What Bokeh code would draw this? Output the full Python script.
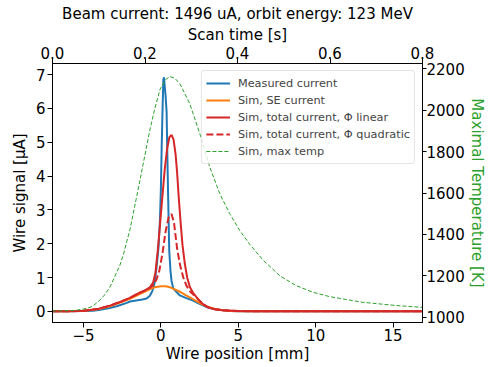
from bokeh.plotting import figure
from bokeh.models import Range1d, LinearAxis, FixedTicker, PrintfTickFormatter, Legend, LegendItem
from bokeh.embed import file_html
from bokeh.resources import INLINE

# ---- data ----
pos_meas = [-7.0, -6.0, -5.0, -4.4, -4.0, -3.3, -2.8, -2.2, -2.0, -1.6, -1.2, -0.92, -0.71, -0.55,
            -0.4, -0.28, -0.15, -0.06, 0.0, 0.05, 0.11, 0.16, 0.2, 0.24, 0.3, 0.37, 0.42, 0.47,
            0.54, 0.62, 0.69, 0.8, 1.0, 1.23, 1.6, 2.08, 2.5, 3.0, 3.5, 4.0, 4.5, 5.0, 6.0, 8.0,
            12.0, 16.9]
cur_meas = [0.0, 0.0, 0.01, 0.02, 0.04, 0.10, 0.16, 0.25, 0.29, 0.32, 0.35, 0.38, 0.46, 0.6,
            0.85, 1.3, 1.9, 2.7, 3.6, 4.8, 6.0, 6.85, 6.92, 6.7, 6.4, 5.9, 4.6, 3.4,
            1.8, 1.2, 0.9, 0.68, 0.58, 0.47, 0.40, 0.32, 0.22, 0.12, 0.06, 0.03, 0.01, 0.005, 0.0, 0.0,
            0.0, 0.0]

pos_se = [-7.0, -6.0, -5.0, -4.5, -4.0, -3.3, -2.5, -2.0, -1.5, -1.0, -0.7, -0.4, 0.0, 0.3, 0.6,
          0.9, 1.23, 1.6, 2.0, 2.3, 2.7, 3.0, 3.5, 4.0, 4.5, 5.0, 6.0, 16.9]
cur_se = [0.0, 0.003, 0.02, 0.04, 0.07, 0.15, 0.28, 0.37, 0.48, 0.59, 0.66, 0.71, 0.74, 0.74, 0.71,
          0.65, 0.58, 0.48, 0.38, 0.30, 0.20, 0.14, 0.07, 0.03, 0.012, 0.005, 0.0, 0.0]

pos_lin = [-7.0, -6.0, -5.0, -4.58, -4.0, -3.29, -2.5, -2.0, -1.5, -1.0, -0.71, -0.5, -0.35, -0.2,
           -0.05, 0.1, 0.25, 0.4, 0.55, 0.69, 0.82, 0.95, 1.05, 1.15, 1.28, 1.4, 1.55, 1.7, 1.87,
           2.08, 2.4, 2.7, 3.0, 3.4, 4.0, 5.0, 6.0, 8.0, 16.9]
cur_lin = [0.0, 0.002, 0.015, 0.04, 0.08, 0.17, 0.3, 0.40, 0.52, 0.63, 0.71, 0.85, 1.15, 1.8,
           2.6, 3.4, 4.2, 4.8, 5.15, 5.22, 5.08, 4.65, 4.1, 3.4, 2.6, 1.95, 1.4, 1.0, 0.72,
           0.55, 0.36, 0.22, 0.13, 0.07, 0.03, 0.01, 0.003, 0.0, 0.0]

pos_quad = [-7.0, -6.0, -5.0, -4.58, -4.0, -3.29, -2.5, -2.0, -1.5, -1.0, -0.71, -0.5, -0.3, -0.1,
            0.1, 0.3, 0.5, 0.69, 0.85, 1.05, 1.25, 1.45, 1.65, 1.9, 2.1, 2.4, 2.7, 3.0, 3.4, 4.0,
            5.0, 6.0, 8.0, 16.9]
cur_quad = [0.0, 0.002, 0.015, 0.04, 0.08, 0.17, 0.3, 0.40, 0.52, 0.62, 0.69, 0.78, 0.92, 1.2,
            1.7, 2.35, 2.78, 2.88, 2.62, 1.85, 1.35, 1.0, 0.76, 0.58, 0.5, 0.36, 0.22, 0.13, 0.07, 0.03,
            0.01, 0.003, 0.0, 0.0]

pos_temp = [-7.0, -6.0, -5.5, -5.0, -4.58, -4.37, -4.0, -3.65, -3.29, -2.65, -2.43, -2.0, -1.7,
            -1.35, -0.71, -0.4, -0.06, 0.3, 0.58, 0.9, 1.23, 1.87, 2.52, 3.16, 3.81, 4.45, 5.1,
            5.74, 6.6, 7.68, 8.75, 9.83, 10.9, 13.0, 15.2, 16.9]
temp_max = [1030, 1031, 1033, 1039, 1047, 1055, 1078, 1106, 1145, 1250, 1300, 1422, 1532,
            1662, 1905, 2005, 2100, 2148, 2163, 2155, 2128, 2031, 1886, 1725, 1596, 1500, 1418,
            1352, 1276, 1200, 1152, 1120, 1099, 1072, 1056, 1047]

title_text = "Beam current: 1496 uA, orbit energy: 123 MeV"
xticks_pos = [-5, 0, 5, 10, 15]
yticks_cur = [0, 1, 2, 3, 4, 5, 6, 7]
yticks_temp = [1000, 1200, 1400, 1600, 1800, 2000, 2200]
xticks_time = [0.0, 0.2, 0.4, 0.6, 0.8]

FONT = "DejaVu Sans"
BLUE, ORANGE, RED, GREEN = "#1f77b4", "#ff7f0e", "#d62728", "#2ca02c"

p = figure(width=488, height=367, x_range=Range1d(-7.0, 16.9), y_range=Range1d(-0.33, 7.33),
           output_backend="svg", toolbar_location=None,
           min_border_left=52, min_border_right=65, min_border_top=63, min_border_bottom=45,
           title=title_text)
p.extra_y_ranges = {"temp": Range1d(974, 2226)}
p.extra_x_ranges = {"time": Range1d(0, 0.8)}
p.xgrid.visible = False
p.ygrid.visible = False
p.outline_line_color = "black"
p.outline_line_alpha = 1.0
p.background_fill_color = "white"
p.border_fill_color = "white"

p.title.align = "center"
p.title.text_font = FONT
p.title.text_font_size = "15px"
p.title.text_font_style = "normal"
p.title.text_color = "black"
p.title.standoff = 0
p.title.offset = 0

def style_axis(ax, label, color="black", ls=2, als=2, tick=5):
    ax.axis_label = label
    ax.axis_label_text_font = FONT
    ax.axis_label_text_font_size = "15px"
    ax.axis_label_text_font_style = "normal"
    ax.axis_label_text_color = color
    ax.major_label_text_font = FONT
    ax.major_label_text_font_size = "15px"
    ax.major_label_text_color = "black"
    ax.minor_tick_line_color = None
    ax.major_tick_in = 0
    ax.major_tick_out = tick
    ax.axis_line_color = "black"
    ax.major_tick_line_color = "black"
    ax.major_label_standoff = ls
    ax.axis_label_standoff = als

xb = p.xaxis[0]
style_axis(xb, "Wire position [mm]", ls=1, als=1)
xb.ticker = FixedTicker(ticks=xticks_pos)
xb.major_label_overrides = {-5: "\u22125"}

yl = p.yaxis[0]
style_axis(yl, "Wire signal [\u03bcA]", ls=2, als=4)
yl.ticker = FixedTicker(ticks=yticks_cur)

yr = LinearAxis(y_range_name="temp")
style_axis(yr, "Maximal Temperature [K]", GREEN, ls=0, als=0, tick=4)
yr.ticker = FixedTicker(ticks=yticks_temp)
p.add_layout(yr, "right")

xt = LinearAxis(x_range_name="time")
style_axis(xt, "Scan time [s]", ls=0, als=0)
xt.ticker = FixedTicker(ticks=xticks_time)
xt.formatter = PrintfTickFormatter(format="%.1f")
p.add_layout(xt, "above")

r_meas = p.line(pos_meas, cur_meas, line_color=BLUE, line_width=2)
r_se = p.line(pos_se, cur_se, line_color=ORANGE, line_width=2)
r_lin = p.line(pos_lin, cur_lin, line_color=RED, line_width=2)
r_quad = p.line(pos_quad, cur_quad, line_color=RED, line_width=2, line_dash="7 3")
r_temp = p.line(pos_temp, temp_max, line_color=GREEN, line_width=1, line_dash="4 2",
                y_range_name="temp")

legend = Legend(items=[
    LegendItem(label="Measured current", renderers=[r_meas]),
    LegendItem(label="Sim, SE current", renderers=[r_se]),
    LegendItem(label="Sim, total current, \u03a6 linear", renderers=[r_lin]),
    LegendItem(label="Sim, total current, \u03a6 quadratic", renderers=[r_quad]),
    LegendItem(label="Sim, max temp", renderers=[r_temp]),
], location="top_right")
legend.label_text_font = FONT
legend.label_text_font_size = "11.3px"
legend.glyph_width = 24
legend.glyph_height = 16
legend.label_height = 16
legend.label_standoff = 8
legend.padding = 4
legend.spacing = 1
legend.margin = 7
legend.border_line_color = "#cccccc"
legend.background_fill_alpha = 0.8
if "border_radius" in legend.properties():
    legend.border_radius = 3
p.add_layout(legend, "center")

open("out.html", "w").write(file_html(p, INLINE))
